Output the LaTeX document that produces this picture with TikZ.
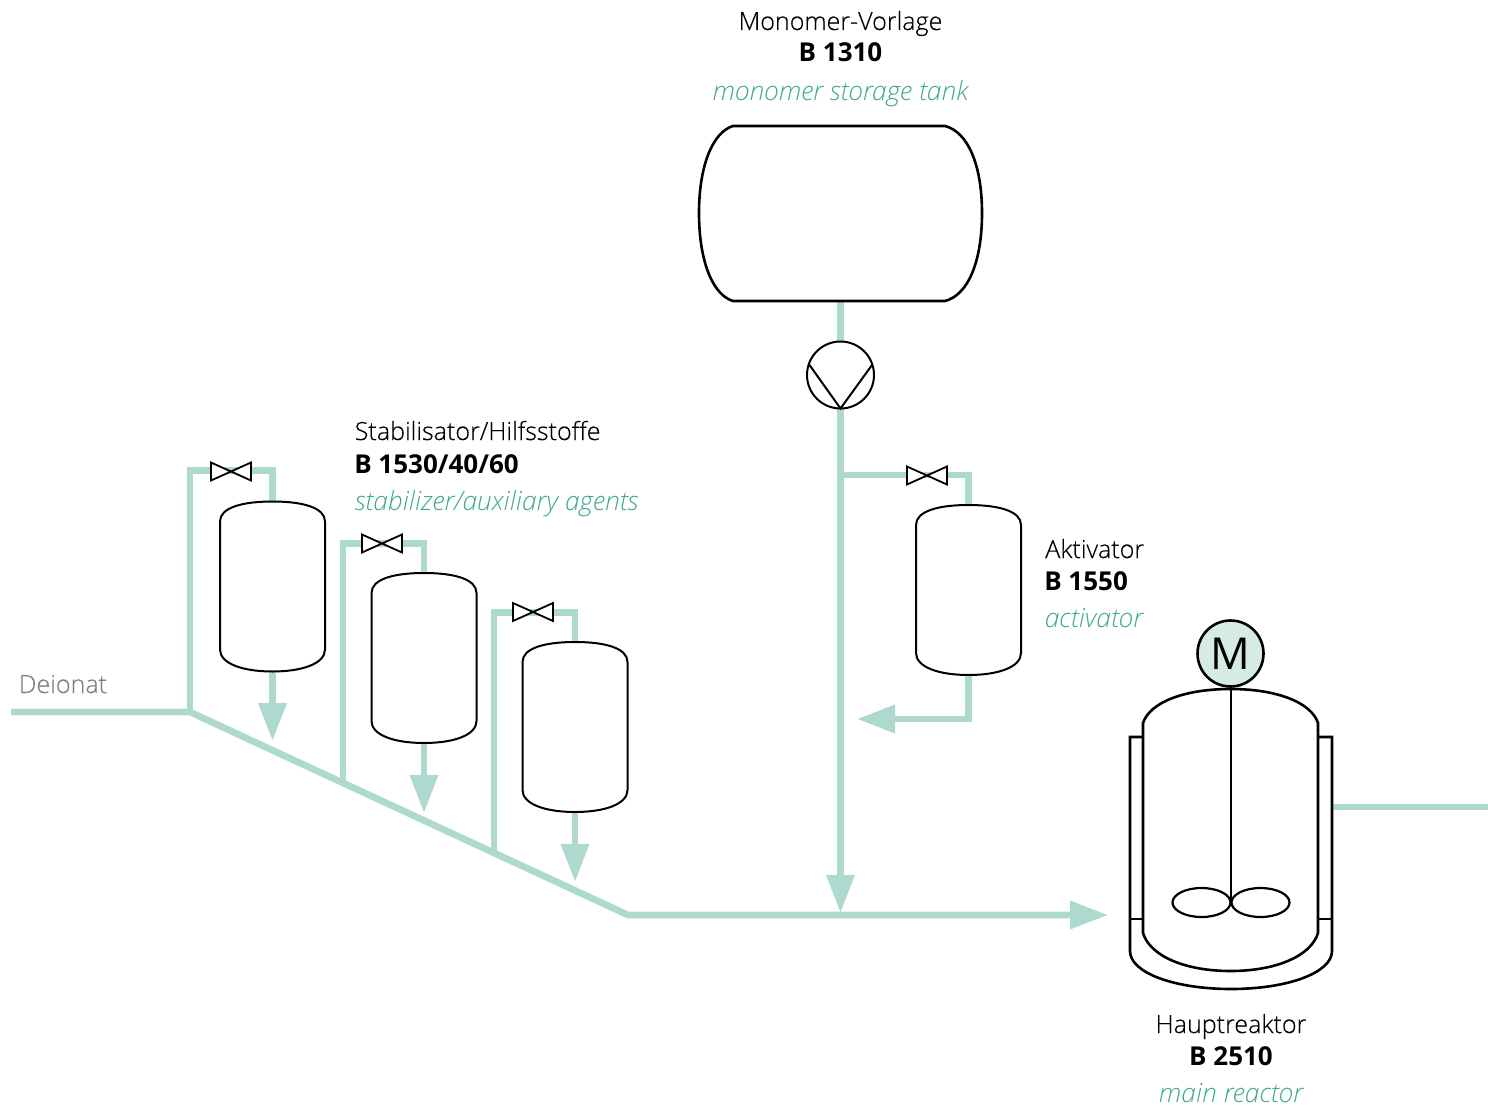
\documentclass[tikz,border=0pt]{standalone}
\usepackage{fontspec}
\setmainfont{Open Sans}[UprightFont=* Light,ItalicFont=* Light Italic,BoldFont=* Bold]
\newfontfamily\motorfont{Open Sans}
\usetikzlibrary{arrows.meta,calc}
\definecolor{pipe}{HTML}{AED9CF}
\definecolor{tealtext}{HTML}{3FA98F}
\definecolor{motorfill}{HTML}{D6EBE6}
\tikzset{
  x=0.75pt,y=-0.75pt,
  pipeline/.style={draw=pipe,line width=5.1pt,line join=miter},
  flow/.style={pipeline,-{Triangle[length=28.5pt,width=20.25pt]}},
  vessel/.style={draw=black,line width=1.95pt,fill=white},
  thin vessel/.style={draw=black,line width=1.5pt,fill=white},
  anchorbox/.style={inner sep=0pt,outer sep=0pt,draw=none},
  de/.style={font=\fontsize{18.8pt}{22pt}\selectfont\addfontfeatures{FakeBold=0.25},text=black,inner sep=0pt},
  cd/.style={font=\fontsize{19.5pt}{22pt}\selectfont\bfseries,text=black,inner sep=0pt},
  en/.style={font=\fontsize{19.8pt}{22pt}\selectfont\itshape,text=tealtext,inner sep=0pt},
}
\newcommand{\smalltank}[3]{% name, cx, cy
  \node[anchorbox,minimum width=78.75pt,minimum height=127.5pt] (#1) at (#2,#3) {};
  \draw[thin vessel] ($(#1.north)+(-52.5,20)$) .. controls ($(#1.north)+(-52.5,6)$) and ($(#1.north)+(-30,0)$) .. (#1.north)
    .. controls ($(#1.north)+(30,0)$) and ($(#1.north)+(52.5,6)$) .. ($(#1.north)+(52.5,20)$)
    -- ($(#1.south)+(52.5,-22)$) .. controls ($(#1.south)+(52.5,-8)$) and ($(#1.south)+(30,0)$) .. (#1.south)
    .. controls ($(#1.south)+(-30,0)$) and ($(#1.south)+(-52.5,-8)$) .. ($(#1.south)+(-52.5,-22)$) -- cycle;
}
\newcommand{\valve}[3]{% name, cx, cy
  \node[anchorbox,minimum width=30pt,minimum height=13.5pt] (#1) at (#2,#3) {};
  \draw[thin vessel,line width=1.35pt,line join=miter] (#1.north west) -- (#1.south east) -- (#1.north east) -- (#1.south west) -- cycle;
}
\begin{document}
\begin{tikzpicture}
\useasboundingbox (0,0) rectangle (1488,1106);
% junctions
\coordinate (in) at (11,712);
\coordinate (j1) at (190,712);
\coordinate (j2) at (343,782);
\coordinate (j3) at (494,852);
\coordinate (bend) at (628,915);
\coordinate (reactorin) at (1108,915);
\coordinate (j4) at (840.5,475);
\coordinate (mix) at (840.5,913);
\coordinate (t1tip) at (272.5,741);
\coordinate (t2tip) at (424,813);
\coordinate (t3tip) at (575,882);
\coordinate (akttip) at (857,719);
\coordinate (out) at (1488,807);
\coordinate (jacketout) at (1332,807);
% vessel anchors
\node[anchorbox,minimum width=212.25pt,minimum height=131.25pt] (main) at (840.5,213.5) {};
\node[anchorbox,minimum size=50.25pt,circle] (pump) at (840.5,375) {};
% pipes
\draw[pipeline] (main.south) -- (pump.north);
\draw[flow] (pump.south) -- (mix);
\draw[flow] (in) -- (j1) -- (bend) -- (reactorin);
\draw[pipeline] (out) -- (jacketout);
% tanks
\node[anchorbox,minimum width=78.75pt,minimum height=127.5pt] (t1p) at (272.5,586.5) {};
\node[anchorbox,minimum width=78.75pt,minimum height=127.5pt] (t2p) at (424,658) {};
\node[anchorbox,minimum width=78.75pt,minimum height=127.5pt] (t3p) at (575,727) {};
\node[anchorbox,minimum width=78.75pt,minimum height=127.5pt] (t4p) at (968.5,590) {};
\draw[pipeline] (j1) -- (190,470.5) -- (272.5,470.5) -- (t1p.north);
\draw[pipeline] (j2) -- (343,543.5) -- (424,543.5) -- (t2p.north);
\draw[pipeline] (j3) -- (494,612.5) -- (575,612.5) -- (t3p.north);
\draw[pipeline] (j4) -- (968.5,475) -- (t4p.north);
\draw[flow] (t1p.south) -- (t1tip);
\draw[flow] (t2p.south) -- (t2tip);
\draw[flow] (t3p.south) -- (t3tip);
\draw[flow] (t4p.south) -- (968.5,719) -- (akttip);
\smalltank{t1}{272.5}{586.5}
\smalltank{t2}{424}{658}
\smalltank{t3}{575}{727}
\smalltank{t4}{968.5}{590}
\valve{v1}{231}{471.5}
\valve{v2}{382}{543.5}
\valve{v3}{533}{612}
\valve{v4}{927}{475.5}
% main tank
\draw[vessel] (733,126) -- (945,126) .. controls (968,132) and (982,165) .. (982,213)
  .. controls (982,262) and (968,295) .. (945,301) -- (733,301)
  .. controls (713,295) and (699,262) .. (699,213)
  .. controls (699,165) and (713,132) .. (733,126) -- cycle;
% pump
\draw[thin vessel] (pump) circle (33.5);
\draw[thin vessel,fill=none,line join=miter] (809.5,365) -- (840.5,408.5) -- (872,365);
% reactor jacket
\draw[vessel] (1143,737) -- (1130,737) -- (1130,951) .. controls (1130,973) and (1175,989) .. (1231,989)
  .. controls (1287,989) and (1332,973) .. (1332,951) -- (1332,737) -- (1318,737);
\draw[vessel] (1130,919) -- (1143,919);
\draw[vessel] (1318,919) -- (1332,919);
% reactor body
\node[anchorbox,minimum width=131.25pt,minimum height=211.5pt] (reactor) at (1230.5,830) {};
\draw[vessel,fill=none] (1143,723) .. controls (1150,702) and (1185,689) .. (reactor.north)
  .. controls (1276,689) and (1311,702) .. (1318,723) -- (1318,933)
  .. controls (1311,956) and (1276,971) .. (reactor.south)
  .. controls (1185,971) and (1150,956) .. (1143,933) -- cycle;
% stirrer
\node[anchorbox,minimum size=49.5pt,circle] (motor) at (1231,653) {};
\node[anchorbox] (hub) at (1231,902.5) {};
\draw[vessel] (motor.south) -- (hub);
\draw[vessel,line width=1.65pt,fill=none] (1201.5,902.5) ellipse (29 and 14.5);
\draw[vessel,line width=1.65pt,fill=none] (1260.5,902.5) ellipse (29 and 14.5);
\node[circle,draw=black,line width=1.95pt,fill=motorfill,minimum size=49.5pt,inner sep=0pt,font=\motorfont\fontsize{33pt}{36pt}\selectfont] (motorlabel) at (1230.5,653.5) {M};
% labels
\node[de,anchor=base] (l1a) at (840.5,30) {Monomer-Vorlage};
\node[cd,anchor=base] (l1b) at (840.5,62) {B 1310};
\node[en,anchor=base] (l1c) at (840.5,100) {monomer storage tank};
\node[de,anchor=base west] (l2a) at (354.5,440) {Stabilisator/Hilfsstoffe};
\node[cd,anchor=base west] (l2b) at (354,473) {B 1530/40/60};
\node[en,anchor=base west] (l2c) at (354.5,510) {stabilizer/auxiliary agents};
\node[de,anchor=base west] (l3a) at (1045,558) {Aktivator};
\node[cd,anchor=base west] (l3b) at (1044,590) {B 1550};
\node[en,anchor=base west] (l3c) at (1044.5,627) {activator};
\node[de,anchor=base] (l4a) at (1231,1033) {Hauptreaktor};
\node[cd,anchor=base] (l4b) at (1231,1065) {B 2510};
\node[en,anchor=base] (l4c) at (1231,1102) {main reactor};
\node[de,anchor=base west,text=black!50] (l5) at (18.5,693) {Deionat};
\end{tikzpicture}
\end{document}
